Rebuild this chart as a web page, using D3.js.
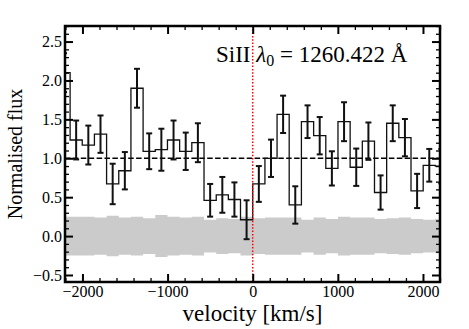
<!DOCTYPE html>
<html>
<head>
<meta charset="utf-8">
<script src="https://cdn.jsdelivr.net/npm/d3@7"></script>
<style>
  body { margin: 0; background: #fff; }
  svg { display: block; }
</style>
</head>
<body>
<svg id="chart"></svg>
<script>
// bin centres in km/s
const velocity = [-2216, -2074, -1931, -1788, -1645, -1502, -1359, -1216, -1073, -930, -787, -644,
  -500, -357, -215, -72, 72, 215, 357, 500, 644, 787, 930, 1073, 1216, 1359, 1502, 1645, 1788, 1931, 2074, 2216];
const flux = [2.10, 1.235, 1.17, 1.31, 0.67, 0.84, 1.90, 1.09, 1.11, 1.235, 1.09, 1.20,
  0.46, 0.53, 0.47, 0.21, 0.67, 1.00, 1.565, 0.40, 1.47, 1.29, 0.87, 1.47, 0.885, 1.22, 0.56, 1.45, 1.265, 0.58, 0.91, 0.90];
const fluxErr = [0.25, 0.25, 0.25, 0.24, 0.26, 0.24, 0.25, 0.23, 0.27, 0.25, 0.24, 0.25,
  0.21, 0.23, 0.22, 0.25, 0.23, 0.24, 0.24, 0.24, 0.21, 0.24, 0.22, 0.25, 0.24, 0.24, 0.22, 0.23, 0.24, 0.22, 0.21, 0.22];
const xTicks = [-2000, -1000, 0, 1000, 2000];
const yTicks = [-0.5, 0.0, 0.5, 1.0, 1.5, 2.0, 2.5];
const continuum = 1.0;
const ion = 'SiII';
const restWave = '1260.422';

const W = 469, H = 329;
const margin = { top: 26, right: 29, bottom: 47, left: 65 };
const width = W - margin.left - margin.right;
const height = H - margin.top - margin.bottom;
const serif = "'Liberation Serif', 'DejaVu Serif', serif";

const svg = d3.select('#chart').attr('width', W).attr('height', H);
const g = svg.append('g').attr('transform', `translate(${margin.left},${margin.top})`);

const x = d3.scaleLinear().domain([-2205, 2200]).range([0, width]);
const y = d3.scaleLinear().domain([-0.59, 2.70]).range([height, 0]);

g.append('clipPath').attr('id', 'clip')
  .append('rect').attr('width', width).attr('height', height);

const data = velocity.map((v, i) => ({ v, f: flux[i], e: fluxErr[i] }));
const plot = g.append('g').attr('clip-path', 'url(#clip)');

// noise band (+/- error around zero)
const band = d3.area()
  .x(d => x(d.v))
  .y0(d => y(-d.e))
  .y1(d => y(d.e))
  .curve(d3.curveStep);
plot.append('path').datum(data)
  .attr('d', band)
  .attr('fill', '#cbcbcb');

// continuum
plot.append('line')
  .attr('x1', 0).attr('x2', width)
  .attr('y1', y(continuum)).attr('y2', y(continuum))
  .attr('stroke', '#000').attr('stroke-width', 1.5)
  .attr('stroke-dasharray', '5.5 2.4');

// step spectrum
const step = d3.line()
  .x(d => x(d.v))
  .y(d => y(d.f))
  .curve(d3.curveStep);
plot.append('path').datum(data)
  .attr('d', step)
  .attr('fill', 'none')
  .attr('stroke', '#111')
  .attr('stroke-width', 1.3);

// error bars
const eb = plot.append('g').attr('stroke', '#111').attr('stroke-width', 2);
data.forEach(d => {
  const cx = x(d.v);
  eb.append('line').attr('x1', cx).attr('x2', cx).attr('y1', y(d.f - d.e)).attr('y2', y(d.f + d.e));
  [d.f - d.e, d.f + d.e].forEach(val => {
    eb.append('line').attr('x1', cx - 3).attr('x2', cx + 3).attr('y1', y(val)).attr('y2', y(val));
  });
});

// line centre
g.append('line')
  .attr('x1', x(0)).attr('x2', x(0))
  .attr('y1', 0).attr('y2', height)
  .attr('stroke', 'red').attr('stroke-width', 1.5)
  .attr('stroke-dasharray', '1.5 1.8');

// axes
const xMinor = d3.range(-22, 23).map(i => i * 100).filter(v => v % 200 === 0 && v % 1000 !== 0);
const yMinor = d3.range(-5, 28).filter(i => i % 5 !== 0).map(i => i / 10);

function styleAxis(sel) {
  sel.select('.domain').remove();
  sel.selectAll('line').attr('stroke', '#000');
  sel.selectAll('text').attr('font-family', serif).attr('font-size', 16).attr('fill', '#000');
}

g.append('g').attr('transform', `translate(0,${height})`)
  .call(d3.axisBottom(x).tickValues(xTicks).tickSizeInner(-8).tickSizeOuter(0).tickPadding(4).tickFormat(d3.format('d')))
  .call(styleAxis).selectAll('line').attr('stroke-width', 2);
g.append('g').attr('transform', `translate(0,${height})`)
  .call(d3.axisBottom(x).tickValues(xMinor).tickSizeInner(-4).tickSizeOuter(0).tickFormat(''))
  .call(styleAxis).selectAll('line').attr('stroke-width', 1.3);
g.append('g')
  .call(d3.axisTop(x).tickValues(xTicks).tickSizeInner(-8).tickSizeOuter(0).tickFormat(''))
  .call(styleAxis).selectAll('line').attr('stroke-width', 2);
g.append('g')
  .call(d3.axisTop(x).tickValues(xMinor).tickSizeInner(-4).tickSizeOuter(0).tickFormat(''))
  .call(styleAxis).selectAll('line').attr('stroke-width', 1.3);

g.append('g')
  .call(d3.axisLeft(y).tickValues(yTicks).tickSizeInner(-8).tickSizeOuter(0).tickPadding(3).tickFormat(d3.format('.1f')))
  .call(styleAxis).selectAll('line').attr('stroke-width', 2);
g.append('g')
  .call(d3.axisLeft(y).tickValues(yMinor).tickSizeInner(-4).tickSizeOuter(0).tickFormat(''))
  .call(styleAxis).selectAll('line').attr('stroke-width', 1.3);
g.append('g').attr('transform', `translate(${width},0)`)
  .call(d3.axisRight(y).tickValues(yTicks).tickSizeInner(-8).tickSizeOuter(0).tickFormat(''))
  .call(styleAxis).selectAll('line').attr('stroke-width', 2);
g.append('g').attr('transform', `translate(${width},0)`)
  .call(d3.axisRight(y).tickValues(yMinor).tickSizeInner(-4).tickSizeOuter(0).tickFormat(''))
  .call(styleAxis).selectAll('line').attr('stroke-width', 1.3);

// frame
g.append('rect')
  .attr('width', width).attr('height', height)
  .attr('fill', 'none').attr('stroke', '#000').attr('stroke-width', 2.5);

// annotation
const label = g.append('text')
  .attr('x', 151).attr('y', 36)
  .attr('font-family', serif).attr('font-size', 23).attr('fill', '#000');
label.append('tspan').text(ion + ' ');
label.append('tspan').attr('font-style', 'italic').text('λ');
label.append('tspan').attr('font-size', 16).attr('dy', 4).text('0');
label.append('tspan').attr('dy', -4).text(` = ${restWave} Å`);

// axis labels
svg.append('text')
  .attr('x', margin.left + width / 2).attr('y', 321)
  .attr('text-anchor', 'middle')
  .attr('font-family', serif).attr('font-size', 23)
  .text('velocity [km/s]');

svg.append('text')
  .attr('transform', `translate(22,${margin.top + height / 2}) rotate(-90)`)
  .attr('text-anchor', 'middle')
  .attr('font-family', serif).attr('font-size', 20)
  .text('Normalised flux');
</script>
</body>
</html>
